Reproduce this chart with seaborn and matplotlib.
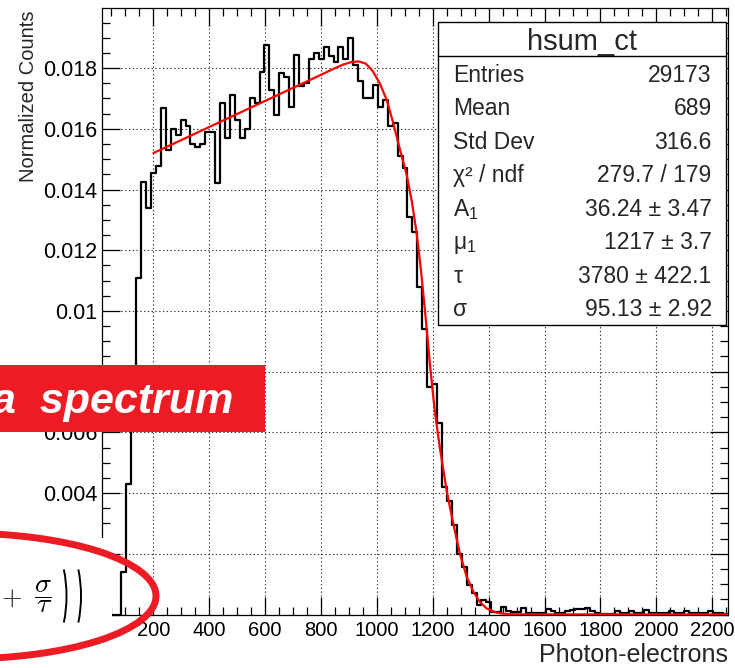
import numpy as np
import pandas as pd
import matplotlib
matplotlib.use("Agg")
import matplotlib.pyplot as plt
import seaborn as sns
from matplotlib.patches import Rectangle, Ellipse, Arc
from matplotlib.lines import Line2D
from matplotlib.ticker import FixedLocator, FixedFormatter, MultipleLocator

# ---------------- data ----------------
hist_values = [
    0, 0, 0, 0, 0.0014, 0.0043, 0.0073, 0.0111, 0.01426, 0.01338,
    0.01454, 0.01478, 0.01668, 0.0153, 0.0160, 0.0158, 0.0163, 0.0161, 0.0155, 0.0154,
    0.0155, 0.0159, 0.0159, 0.0142, 0.01686, 0.0157, 0.0171, 0.0163, 0.0157, 0.0160,
    0.0170, 0.01686, 0.01788, 0.01877, 0.01728, 0.01646, 0.01783, 0.01772, 0.01673, 0.01844,
    0.0174, 0.0175, 0.0183, 0.0185, 0.0183, 0.0187, 0.0184, 0.0182, 0.0187, 0.0183,
    0.0190, 0.0181, 0.01756, 0.0170, 0.0170, 0.01745, 0.01673, 0.01695, 0.0161, 0.0162,
    0.0151, 0.0147, 0.0131, 0.0126, 0.0108, 0.0094, 0.0075, 0.0076, 0.0063, 0.0042,
    0.00375, 0.00295, 0.0020, 0.00158, 0.00097, 0.0007, 0.00031, 0.00048, 0.00042, 0.00008,
    0.00008, 0.00026, 0.00012, 0.00008, 0.00008, 0.00022, 0.00006, 0.00006, 0.00006, 0.00006,
    0.00017, 0.00012, 0.00006, 0.00006, 0.00012, 0.00015, 0.00017, 0.00017, 0.0002, 0.0001,
    0.00005, 0.00003, 0.00003, 0.00003, 0.0001, 0.00006, 0.00006, 0.00011, 0.00004, 0.00006,
    0.00015, 0.00006, 0.00006, 0.00006, 0.00006, 0.00011, 0.00006, 0.00006, 0.0001, 0.00006,
    0.00006, 0.00006, 0.00006, 0.0001, 0.00006, 0.00006, 0.00003,
]
hist_range = (15, 2256.5)

fit_x = [200, 300, 400, 500, 600, 700, 800, 850, 880, 910, 935, 960, 985, 1010,
         1035, 1058, 1080, 1106, 1125, 1142, 1158, 1172, 1190, 1207, 1225, 1249,
         1273, 1297, 1321, 1345, 1368, 1392, 1428, 1460, 1500, 2257]
fit_y = [0.0152, 0.01563, 0.01606, 0.01649, 0.01692, 0.01735, 0.01778, 0.0180,
         0.01812, 0.0182, 0.01822, 0.01815, 0.0179, 0.0175, 0.01695, 0.0162, 0.0154,
         0.0145, 0.0136, 0.01256, 0.0113, 0.0100, 0.0082, 0.0067, 0.0055, 0.0041,
         0.0030, 0.0020, 0.00125, 0.00075, 0.00042, 0.0002, 0.00006, 0.00002, 0.000005, 0.0]

x_tick_values = [200, 400, 600, 800, 1000, 1200, 1400, 1600, 1800, 2000, 2200]
x_tick_labels = ["200", "400", "600", "800", "1000", "1200", "1400", "1600", "1800", "2000", "2200"]
y_tick_values = [0.0, 0.002, 0.004, 0.006, 0.008, 0.010, 0.012, 0.014, 0.016, 0.018]
y_tick_labels = ["0", "0.002", "0.004", "0.006", "0.008", "0.01", "0.012", "0.014", "0.016", "0.018"]

stats_title = "hsum_ct"
stats_names = ["Entries", "Mean", "Std Dev", "χ² / ndf",
               "$\\mathrm{A}_{\\mathrm{1}}$", "$\\mathrm{μ}_{\\mathrm{1}}$", "τ", "σ"]
stats_values = ["29173", "689", "316.6", "279.7 / 179", "36.24 ± 3.47",
                "1217 ± 3.7", "3780 ± 422.1", "95.13 ± 2.92"]

x_label = "Photon-electrons"
y_label = "Normalized Counts"
banner_text = "a  spectrum"

# ---------------- style ----------------
sns.set_theme(style="ticks")
plt.rcParams["font.family"] = ["Liberation Sans", "DejaVu Sans"]
plt.rcParams["mathtext.fontset"] = "custom"
plt.rcParams["mathtext.rm"] = "Liberation Sans"
plt.rcParams["mathtext.it"] = "Liberation Sans:italic"
plt.rcParams["mathtext.bf"] = "Liberation Sans:bold"
plt.rcParams["axes.edgecolor"] = "black"
plt.rcParams["xtick.color"] = "black"
plt.rcParams["ytick.color"] = "black"

W, H = 735, 668
fig = plt.figure(figsize=(W / 100, H / 100), dpi=100)
fig.patch.set_facecolor("white")

L, R, T, B = 101.7, 728.2, 8.3, 614.5
ax = fig.add_axes([L / W, 1 - B / H, (R - L) / W, (B - T) / H])

nbins = len(hist_values)
bin_w = (hist_range[1] - hist_range[0]) / nbins
centers = hist_range[0] + bin_w * (np.arange(nbins) + 0.5)
df = pd.DataFrame({"pe": centers, "w": hist_values})
sns.histplot(data=df, x="pe", weights="w", bins=nbins, binrange=hist_range,
             element="step", fill=False, color="black", linewidth=1.6, ax=ax, zorder=3)

fdf = pd.DataFrame({"x": fit_x, "y": fit_y})
sns.lineplot(data=fdf, x="x", y="y", color="#ff0000", linewidth=1.6, sort=False,
             ax=ax, zorder=4)

ax.set_xlim(15, 2257)
ax.set_ylim(0, 0.01997)

ax.xaxis.set_major_locator(FixedLocator(x_tick_values))
ax.xaxis.set_major_formatter(FixedFormatter(x_tick_labels))
ax.xaxis.set_minor_locator(MultipleLocator(50))
ax.yaxis.set_major_locator(FixedLocator(y_tick_values))
ax.yaxis.set_major_formatter(FixedFormatter(y_tick_labels))
ax.yaxis.set_minor_locator(MultipleLocator(0.0005))

ax.tick_params(axis="both", which="both", direction="in", top=True, right=True,
               width=0.9, colors="black")
ax.tick_params(axis="both", which="major", length=13)
ax.tick_params(axis="both", which="minor", length=6)
ax.tick_params(axis="x", which="major", pad=5, labelsize=14.5)
ax.tick_params(axis="y", which="major", pad=3, labelsize=15.5)

ax.grid(True, which="major", color="#333333", linestyle=(0, (1.2, 2.2)), linewidth=0.8)
ax.set_axisbelow(True)
for s in ax.spines.values():
    s.set_visible(True)
    s.set_color("black")
    s.set_linewidth(0.9)

ax.set_xlabel(x_label, fontsize=18, loc="right")
ax.xaxis.set_label_coords(1.0, -0.047)
ax.set_ylabel(y_label, fontsize=14.5, loc="top")
ax.yaxis.set_label_coords(-0.1023, 0.997)

# ---------------- overlay in pixel coordinates ----------------
ov = fig.add_axes([0, 0, 1, 1], zorder=10)
ov.set_xlim(0, W)
ov.set_ylim(H, 0)
ov.axis("off")
ov.patch.set_visible(False)

# stats box
bx0, bx1, by0, by1 = 438.3, 726.0, 21.7, 325.0
ov.add_patch(Rectangle((bx0, by0), bx1 - bx0, by1 - by0, facecolor="white",
                       edgecolor="black", linewidth=1.0, zorder=1))
ov.add_line(Line2D([bx0, bx1], [56, 56], color="black", linewidth=1.0, zorder=2))
ov.text((bx0 + bx1) / 2, 50, stats_title, ha="center", va="baseline", fontsize=21, zorder=3)
for k, (nm, val) in enumerate(zip(stats_names, stats_values)):
    yb = 81.7 + 33.5 * k
    ov.text(453.3, yb, nm, ha="left", va="baseline", fontsize=16.5, zorder=3)
    ov.text(711.7, yb, val, ha="right", va="baseline", fontsize=16.5, zorder=3)

# white patch with formula fragment (bottom-left)
ov.add_patch(Rectangle((0, 538), 111.7, H - 538, facecolor="white", edgecolor="none", zorder=1))
ov.text(11.7, 598, r"$+$", ha="center", va="center", fontsize=19,
        math_fontfamily="cm", color="black", zorder=2)
ov.text(43, 597, r"$\dfrac{\sigma}{\tau}$", ha="center", va="center", fontsize=20,
        math_fontfamily="cm", color="black", zorder=2)
ov.add_patch(Arc((48.5, 596), 36, 101, theta1=-60, theta2=60, color="black", linewidth=1.4, zorder=2))
ov.add_patch(Arc((63.0, 596), 36, 101, theta1=-60, theta2=60, color="black", linewidth=1.4, zorder=2))
ov.add_patch(Ellipse((-38.3, 596), 2 * 194.3, 2 * 62.9, fill=False, edgecolor="#ED1C24",
                     linewidth=5.0, zorder=3))

# red banner
ov.add_patch(Rectangle((0, 365), 265, 67, facecolor="#ED1C24", edgecolor="none", zorder=4))
ov.text(233, 413, banner_text, ha="right", va="baseline", fontsize=31, color="white",
        fontweight="bold", fontstyle="italic", zorder=5)

fig.savefig("out.png", dpi=100)
